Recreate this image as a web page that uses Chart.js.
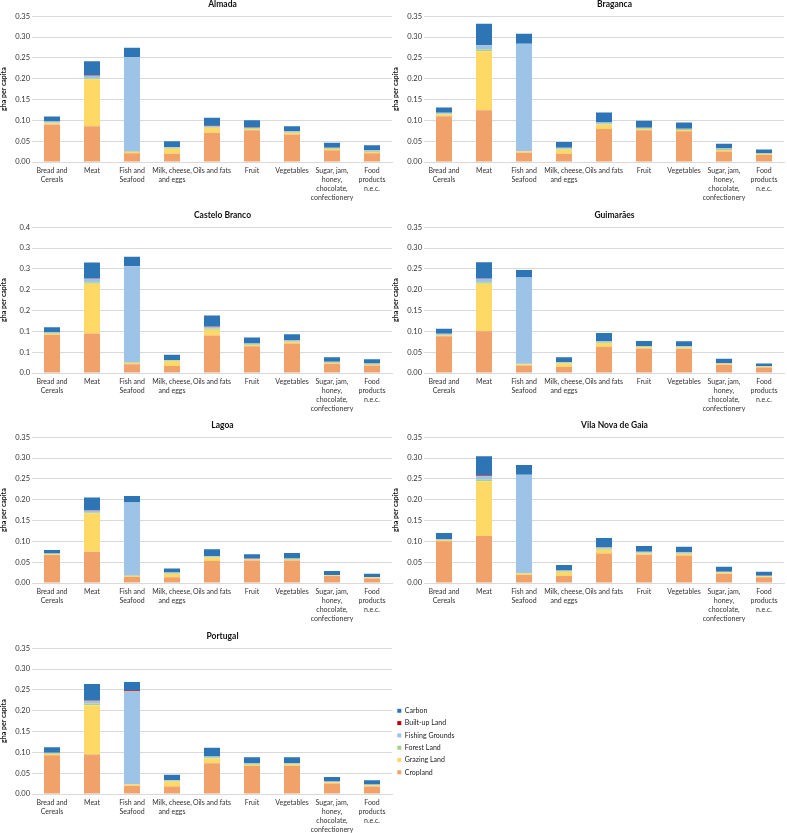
<!DOCTYPE html>
<html><head><meta charset="utf-8">
<script src="https://cdn.jsdelivr.net/npm/chart.js@4/dist/chart.umd.min.js"></script>
<style>
html,body{margin:0;padding:0;background:#fff;width:787px;height:833px;overflow:hidden;position:relative}
.panel{position:absolute;height:212px;overflow:hidden}
.panel canvas{position:absolute;left:0;top:0}
</style></head><body>
<div class="panel" style="left:0;top:-6px;width:393px"><canvas id="c0" width="445" height="210"></canvas></div>
<div class="panel" style="left:392px;top:-6px;width:395px"><canvas id="c1" width="445" height="210"></canvas></div>
<div class="panel" style="left:0;top:205px;width:393px"><canvas id="c2" width="445" height="210"></canvas></div>
<div class="panel" style="left:392px;top:205px;width:395px"><canvas id="c3" width="445" height="210"></canvas></div>
<div class="panel" style="left:0;top:415px;width:393px"><canvas id="c4" width="445" height="210"></canvas></div>
<div class="panel" style="left:392px;top:415px;width:395px"><canvas id="c5" width="445" height="210"></canvas></div>
<div class="panel" style="left:0;top:626px;width:393px"><canvas id="c6" width="445" height="210"></canvas></div>
<div class="panel" style="left:392px;top:702px;width:140px;height:85px"><canvas id="legend" width="140" height="85"></canvas></div>
<script>
// ---- categories & labels ----
const categories = [['Bread and','Cereals'],'Meat',['Fish and','Seafood'],['Milk, cheese,','and eggs'],'Oils and fats','Fruit','Vegetables',['Sugar, jam,','honey,','chocolate,','confectionery'],['Food','products','n.e.c.']];
const seriesNames = ['Cropland','Grazing Land','Forest Land','Fishing Grounds','Built-up Land','Carbon'];
const seriesColors = ['#F1A26A','#FFD966','#A9D18E','#9DC3E6','#C00000','#2E75B6'];
const regionNames = ['Almada','Braganca','Castelo Branco','Guimarães','Lagoa','Vila Nova de Gaia','Portugal'];
const yTickLabels = ['0.00','0.05','0.10','0.15','0.20','0.25','0.30','0.35'];
const yTickLabelsCasteloBranco = ['0.0','0.1','0.1','0.2','0.2','0.3','0.3','0.4'];
const yAxisTitle = 'gha per capita';

// ---- values (gha per capita) ----
const almadaCropland  = [0.090,0.086,0.021,0.020,0.070,0.076,0.066,0.028,0.021];
const almadaGrazing   = [0.003,0.112,0.003,0.012,0.012,0.003,0.004,0.003,0.003];
const almadaForest    = [0.002,0.003,0.001,0.002,0.002,0.002,0.002,0.002,0.002];
const almadaFishing   = [0.002,0.006,0.227,0.002,0.002,0.001,0.002,0.001,0.002];
const almadaBuiltUp   = [0.000,0.001,0.000,0.000,0.001,0.001,0.000,0.000,0.000];
const almadaCarbon    = [0.012,0.034,0.022,0.014,0.019,0.017,0.012,0.012,0.012];

const bragancaCropland = [0.110,0.124,0.022,0.020,0.079,0.076,0.074,0.025,0.017];
const bragancaGrazing  = [0.004,0.142,0.003,0.010,0.011,0.003,0.003,0.004,0.002];
const bragancaForest   = [0.002,0.004,0.001,0.002,0.002,0.002,0.002,0.002,0.001];
const bragancaFishing  = [0.002,0.010,0.258,0.002,0.003,0.001,0.001,0.002,0.001];
const bragancaBuiltUp  = [0.000,0.001,0.000,0.000,0.000,0.000,0.000,0.000,0.000];
const bragancaCarbon   = [0.013,0.051,0.024,0.014,0.024,0.017,0.015,0.011,0.009];

const casteloCropland = [0.091,0.095,0.021,0.017,0.090,0.064,0.071,0.022,0.018];
const casteloGrazing  = [0.003,0.119,0.003,0.012,0.014,0.003,0.004,0.002,0.002];
const casteloForest   = [0.002,0.004,0.001,0.001,0.003,0.002,0.002,0.002,0.002];
const casteloFishing  = [0.002,0.008,0.231,0.001,0.004,0.002,0.002,0.001,0.001];
const casteloBuiltUp  = [0.000,0.001,0.000,0.000,0.001,0.000,0.000,0.000,0.000];
const casteloCarbon   = [0.012,0.038,0.023,0.013,0.026,0.014,0.014,0.011,0.010];

const guimaraesCropland = [0.088,0.100,0.018,0.015,0.063,0.059,0.058,0.020,0.013];
const guimaraesGrazing  = [0.002,0.114,0.003,0.008,0.009,0.003,0.003,0.002,0.002];
const guimaraesForest   = [0.002,0.004,0.001,0.002,0.002,0.002,0.002,0.001,0.001];
const guimaraesFishing  = [0.002,0.008,0.207,0.001,0.002,0.001,0.002,0.0005,0.001];
const guimaraesBuiltUp  = [0.000,0.001,0.000,0.000,0.000,0.000,0.000,0.000,0.000];
const guimaraesCarbon   = [0.012,0.039,0.018,0.012,0.020,0.012,0.011,0.011,0.006];

const lagoaCropland = [0.067,0.075,0.015,0.014,0.053,0.054,0.054,0.017,0.011];
const lagoaGrazing  = [0.002,0.092,0.002,0.008,0.008,0.002,0.002,0.001,0.002];
const lagoaForest   = [0.001,0.003,0.001,0.002,0.002,0.001,0.002,0.001,0.001];
const lagoaFishing  = [0.001,0.004,0.175,0.001,0.001,0.001,0.001,0.0005,0.0005];
const lagoaBuiltUp  = [0.000,0.001,0.000,0.000,0.000,0.001,0.000,0.000,0.000];
const lagoaCarbon   = [0.008,0.030,0.016,0.010,0.017,0.010,0.013,0.0095,0.0075];

const gaiaCropland = [0.100,0.113,0.019,0.017,0.071,0.068,0.066,0.022,0.014];
const gaiaGrazing  = [0.003,0.131,0.004,0.010,0.009,0.003,0.004,0.003,0.002];
const gaiaForest   = [0.001,0.004,0.001,0.002,0.003,0.002,0.002,0.001,0.001];
const gaiaFishing  = [0.001,0.008,0.236,0.001,0.002,0.002,0.002,0.001,0.0005];
const gaiaBuiltUp  = [0.000,0.002,0.000,0.000,0.001,0.000,0.000,0.000,0.000];
const gaiaCarbon   = [0.015,0.046,0.023,0.013,0.022,0.014,0.013,0.012,0.0095];

const portugalCropland = [0.093,0.095,0.020,0.018,0.074,0.067,0.068,0.025,0.018];
const portugalGrazing  = [0.003,0.118,0.003,0.012,0.011,0.003,0.003,0.003,0.003];
const portugalForest   = [0.002,0.004,0.001,0.002,0.003,0.002,0.002,0.001,0.001];
const portugalFishing  = [0.001,0.007,0.223,0.001,0.002,0.002,0.001,0.001,0.001];
const portugalBuiltUp  = [0.000,0.001,0.002,0.000,0.000,0.000,0.000,0.000,0.000];
const portugalCarbon   = [0.013,0.039,0.020,0.013,0.021,0.014,0.014,0.011,0.010];

const regionSeries = [
  [almadaCropland, almadaGrazing, almadaForest, almadaFishing, almadaBuiltUp, almadaCarbon],
  [bragancaCropland, bragancaGrazing, bragancaForest, bragancaFishing, bragancaBuiltUp, bragancaCarbon],
  [casteloCropland, casteloGrazing, casteloForest, casteloFishing, casteloBuiltUp, casteloCarbon],
  [guimaraesCropland, guimaraesGrazing, guimaraesForest, guimaraesFishing, guimaraesBuiltUp, guimaraesCarbon],
  [lagoaCropland, lagoaGrazing, lagoaForest, lagoaFishing, lagoaBuiltUp, lagoaCarbon],
  [gaiaCropland, gaiaGrazing, gaiaForest, gaiaFishing, gaiaBuiltUp, gaiaCarbon],
  [portugalCropland, portugalGrazing, portugalForest, portugalFishing, portugalBuiltUp, portugalCarbon]
];
const regionTickLabels = [yTickLabels, yTickLabels, yTickLabelsCasteloBranco, yTickLabels, yTickLabels, yTickLabels, yTickLabels];

Chart.defaults.font.family = 'Lato, "Open Sans", sans-serif';
Chart.defaults.color = '#333';
const txt = '#333';

function makePanel(idx) {
  const labels = regionTickLabels[idx];
  const datasets = seriesNames.map((name, s) => ({
    label: name,
    data: regionSeries[idx][s],
    backgroundColor: seriesColors[s],
    borderWidth: 0,
    barPercentage: 0.4,
    categoryPercentage: 1.0
  }));
  new Chart(document.getElementById('c' + idx), {
    type: 'bar',
    data: { labels: categories, datasets },
    options: {
      responsive: false,
      animation: false,
      events: [],
      layout: { padding: 0 },
      plugins: {
        legend: { display: false },
        tooltip: { enabled: false },
        title: {
          display: true,
          text: regionNames[idx],
          color: '#111',
          font: { size: 8.5, weight: 'bold' },
          padding: { top: 5, bottom: 7 }
        }
      },
      scales: {
        x: {
          stacked: true,
          grid: { display: false, drawTicks: false },
          border: { display: true, color: '#d9d9d9' },
          ticks: { color: txt, font: { size: 7, lineHeight: 1.27 }, padding: 4.5, maxRotation: 0, minRotation: 0, autoSkip: false },
          afterFit: (s) => { s.height = 42; }
        },
        y: {
          stacked: true,
          min: 0, max: 0.35,
          grid: { color: '#d9d9d9', lineWidth: 1, drawTicks: false },
          border: { display: false },
          ticks: { stepSize: 0.05, padding: 2, color: txt, font: { size: 7.5 },
                   callback: (v, i) => labels[i] },
          title: { display: true, text: yAxisTitle, color: '#111', font: { size: 7, weight: 'bold' }, padding: { top: 0, bottom: 0 } },
          afterFit: (s) => { s.width = 32; }
        },
        spacer: {
          type: 'linear',
          position: 'right',
          display: true,
          grid: { display: false, drawTicks: false },
          border: { display: false },
          ticks: { display: false },
          afterFit: (s) => { s.width = 53; }
        }
      }
    }
  });
}
for (let i = 0; i < regionNames.length; i++) makePanel(i);

// legend (shared)
new Chart(document.getElementById('legend'), {
  type: 'bar',
  data: {
    labels: [],
    datasets: seriesNames.map((name, s) => ({ label: name, data: [], backgroundColor: seriesColors[s], borderWidth: 0 }))
  },
  options: {
    responsive: false,
    animation: false,
    events: [],
    layout: { padding: 0 },
    plugins: {
      tooltip: { enabled: false },
      legend: {
        position: 'left',
        align: 'start',
        reverse: true,
        labels: { boxWidth: 4, boxHeight: 4, padding: 5.3, color: '#222', font: { size: 7 } }
      }
    },
    scales: { x: { display: false }, y: { display: false } }
  }
});
</script>
</body></html>
